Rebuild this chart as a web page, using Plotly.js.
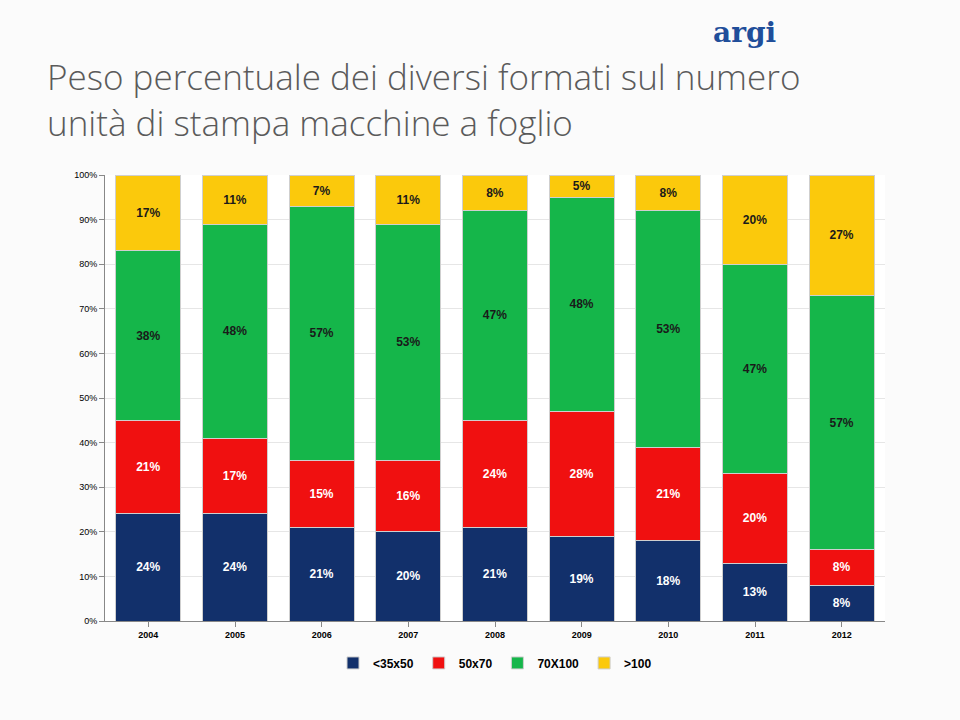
<!DOCTYPE html>
<html><head><meta charset="utf-8">
<script src="https://cdn.plot.ly/plotly-3.0.1.min.js"></script>
<style>body{margin:0;background:#fff}#chart{width:960px;height:720px}</style>
</head><body><div id="chart"></div>
<script>
var years = ['2004','2005','2006','2007','2008','2009','2010','2011','2012'];
var small = [24,24,21,20,21,19,18,13,8];
var mid = [21,17,15,16,24,28,21,20,8];
var large = [38,48,57,53,47,48,53,47,57];
var huge = [17,11,7,11,8,5,8,20,27];
var names = ['<35x50','50x70','70X100','>100'];
var colors = ['#12306b','#f01010','#15b64a','#fbc90c'];
var txtColors = ['#ffffff','#ffffff','#1a1a1a','#1a1a1a'];

var traces = [small, mid, large, huge].map(function(v, i) {
	return {
		type: 'bar', x: years, y: v, name: names[i],
		marker: {color: colors[i], line: {color: '#cfcfcf', width: 1}},
		text: v.map(function(d) { return d + '%'; }),
		textposition: 'inside', insidetextanchor: 'middle',
		textfont: {family: 'Liberation Sans', size: 12, color: txtColors[i], weight: 'bold'},
		hoverinfo: 'skip'
	};
});

var layout = {
	width: 960, height: 720,
	paper_bgcolor: '#fbfbfb', plot_bgcolor: '#ffffff',
	barmode: 'stack', bargap: 0.25,
	showlegend: true,
	legend: {orientation: 'h', x: 0.5, xanchor: 'center', y: -0.094, yanchor: 'middle',
		bgcolor: 'rgba(0,0,0,0)',
		font: {family: 'Liberation Sans', size: 12, color: '#000', weight: 'bold'}, traceorder: 'normal'},
	margin: {l: 105, r: 75, t: 175, b: 99},
	xaxis: {tickfont: {family: 'Liberation Sans', size: 9, color: '#000', weight: 'bold'},
		showline: true, linecolor: '#888', ticks: 'outside', tickcolor: '#888'},
	yaxis: {range: [0, 100], dtick: 10, ticksuffix: '%',
		tickfont: {family: 'Liberation Sans', size: 9, color: '#000'},
		showgrid: true, gridcolor: '#e6e6e6', showline: true, linecolor: '#888',
		ticks: 'outside', tickcolor: '#888', zeroline: false},
	annotations: [
		{xref: 'paper', yref: 'paper', x: -0.077, y: 1.06, xanchor: 'left', yanchor: 'bottom', align: 'left',
			text: 'Peso percentuale dei diversi formati sul numero<br>unità di stampa macchine a foglio',
			showarrow: false, font: {family: 'Open Sans', size: 35, color: '#5a5a5a', weight: 300}},
		{xref: 'paper', yref: 'paper', x: 0.82, y: 1.32, xanchor: 'center', yanchor: 'middle',
			text: '<b>argi</b>', showarrow: false,
			font: {family: 'DejaVu Serif', size: 28, color: '#1f4e9a'}}
	]
};

Plotly.newPlot('chart', traces, layout, {displayModeBar: false});
</script></body></html>
